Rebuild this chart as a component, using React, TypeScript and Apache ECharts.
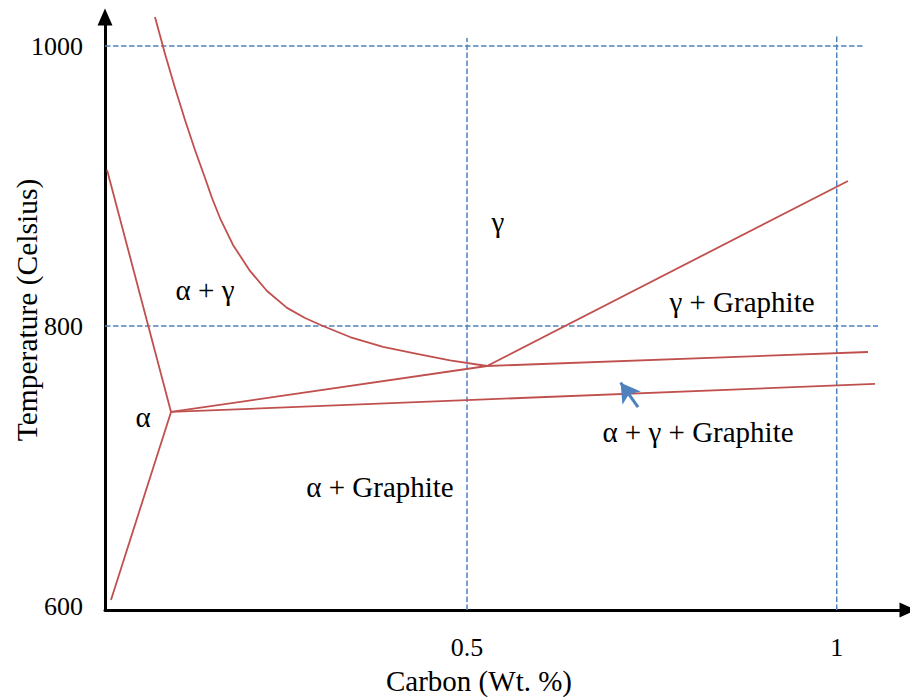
import React, { useEffect, useRef } from "react";
import * as echarts from "echarts";

// Fe–C phase diagram (temperature vs. carbon content)

const FONT = "'Liberation Serif', 'Times New Roman', serif";
const RED = "#C0504D";
const BLUE = "#4F81BD";

// Axis ranges and tick labels
const X_MIN = 0.0104;
const X_MAX = 1.0964;
const T_MIN = 597.1;
const T_MAX = 1020.7;
const T_TICKS = [600, 800, 1000];
const X_TICKS = [0.5, 1];

// Key points
const TRIPLE_POINT: [number, number] = [0.0997, 738.6];
const EUTECTOID: [number, number] = [0.5271, 771.4];

// α / α+γ boundary (upper left line) and α / α+Graphite boundary (lower left line)
const ALPHA_UPPER: [number, number][] = [[0.0132, 911.4], TRIPLE_POINT];
const ALPHA_LOWER: [number, number][] = [TRIPLE_POINT, [0.0185, 604.3]];

// α+γ / γ boundary curve
const GAMMA_CURVE: [number, number][] = [
  [0.078, 1020.7],
  [0.0916, 994.3],
  [0.1051, 970.0],
  [0.1186, 947.1],
  [0.1321, 925.7],
  [0.1457, 905.7],
  [0.1551, 891.4],
  [0.1659, 877.1],
  [0.1835, 857.9],
  [0.2065, 839.3],
  [0.2295, 825.0],
  [0.2566, 812.9],
  [0.2809, 805.7],
  [0.3052, 800.0],
  [0.3418, 792.1],
  [0.3864, 785.0],
  [0.4324, 780.0],
  [0.477, 775.4],
  EUTECTOID,
];

// Lines leaving the triple point / eutectoid point
const TRIPLE_TO_EUTECTOID: [number, number][] = [TRIPLE_POINT, EUTECTOID];
const UPPER_THREE_PHASE: [number, number][] = [EUTECTOID, [1.0423, 781.4]];
const LOWER_THREE_PHASE: [number, number][] = [TRIPLE_POINT, [1.0518, 758.6]];
const GRAPHITE_SOLVUS: [number, number][] = [EUTECTOID, [1.0152, 903.6]];

// Dashed reference lines
const REF_1000: [number, number][] = [[X_MIN, 1000], [1.0351, 1000]];
const REF_800: [number, number][] = [[X_MIN, 800], [1.0558, 800]];
const REF_X05: [number, number][] = [[0.5, T_MIN], [0.5, 1005.7]];
const REF_X1: [number, number][] = [[1, T_MIN], [1, 1007.9]];

// Phase region labels
const REGION_NAMES = ["γ", "α + γ", "γ + Graphite", "α", "α + γ + Graphite", "α + Graphite"];
const REGION_X = [0.5419, 0.1457, 0.8719, 0.0618, 0.8124, 0.3823];
const REGION_T = [874.3, 825.7, 817.1, 735.0, 724.3, 685.0];

// Pointer arrow toward the thin three-phase band
const POINTER: [number, number][] = [[0.7313, 742.1], [0.7077, 759.5]];

export default function App() {
  const ref = useRef<HTMLDivElement>(null);

  useEffect(() => {
    if (!ref.current) return;
    const chart = echarts.init(ref.current, null, { renderer: "svg" });

    const solid = (name: string, data: [number, number][]) => ({
      name,
      type: "line",
      data,
      showSymbol: false,
      symbol: "none",
      silent: true,
      z: 3,
      lineStyle: { color: RED, width: 1.8, join: "round" },
    });

    const dashed = (name: string, data: [number, number][]) => ({
      name,
      type: "line",
      data,
      showSymbol: false,
      symbol: "none",
      silent: true,
      z: 2,
      lineStyle: { color: BLUE, width: 1.5, type: [5.5, 2.5] },
    });

    const axisLine = {
      show: true,
      onZero: false,
      symbol: ["none", "triangle"],
      symbolSize: [15, 17],
      lineStyle: { color: "#000", width: 3 },
    };

    chart.setOption({
      animation: false,
      grid: { left: 105, right: 2, top: 17, bottom: 88, containLabel: false },
      xAxis: {
        type: "value",
        min: X_MIN,
        max: X_MAX,
        axisLine,
        axisTick: { show: false },
        splitLine: { show: false },
        axisLabel: { show: false },
      },
      yAxis: {
        type: "value",
        min: T_MIN,
        max: T_MAX,
        axisLine,
        axisTick: { show: false },
        splitLine: { show: false },
        axisLabel: { show: false },
      },
      series: [
        dashed("ref1000", REF_1000),
        dashed("ref800", REF_800),
        dashed("refX05", REF_X05),
        dashed("refX1", REF_X1),
        solid("alphaUpper", ALPHA_UPPER),
        solid("alphaLower", ALPHA_LOWER),
        solid("gammaCurve", GAMMA_CURVE),
        solid("tripleToEutectoid", TRIPLE_TO_EUTECTOID),
        solid("upperThreePhase", UPPER_THREE_PHASE),
        solid("lowerThreePhase", LOWER_THREE_PHASE),
        solid("graphiteSolvus", GRAPHITE_SOLVUS),
        {
          name: "pointer",
          type: "line",
          data: [],
          markLine: {
            silent: true,
            animation: false,
            symbol: ["none", "arrow"],
            symbolSize: [17, 19],
            label: { show: false },
            lineStyle: { color: BLUE, width: 3, type: "solid" },
            data: [[{ coord: POINTER[0] }, { coord: POINTER[1] }]],
          },
        },
      ],
    });

    // Text is placed with the chart's own coordinate conversion so it follows the axes
    const toPx = (x: number, t: number) =>
      chart.convertToPixel({ gridIndex: 0 }, [x, t]) as number[];
    const text = (
      str: string,
      x: number,
      y: number,
      size: number,
      align: string,
      rotation = 0
    ) => ({
      type: "text",
      x,
      y,
      rotation,
      silent: true,
      z: 10,
      style: {
        text: str,
        fontFamily: FONT,
        fontSize: size,
        fill: "#000",
        align,
        verticalAlign: "middle",
      },
    });

    const origin = toPx(X_MIN, T_MIN);
    const graphics: any[] = [];
    T_TICKS.forEach((t) => {
      const p = toPx(X_MIN, t);
      graphics.push(text(String(t), origin[0] - 22, p[1] + 1, 26, "right"));
    });
    X_TICKS.forEach((x) => {
      const p = toPx(x, T_MIN);
      graphics.push(text(String(x), p[0], origin[1] + 37, 26, "center"));
    });
    REGION_NAMES.forEach((n, i) => {
      const p = toPx(REGION_X[i], REGION_T[i]);
      graphics.push(text(n, p[0], p[1], 29, "center"));
    });
    graphics.push(text("Carbon (Wt. %)", 479, 681, 29, "center"));
    graphics.push(text("Temperature (Celsius)", 27, 310, 29.5, "center", Math.PI / 2));

    chart.setOption({ graphic: graphics });

    return () => chart.dispose();
  }, []);

  return (
    <div
      ref={ref}
      style={{ position: "fixed", left: 0, top: 0, width: 910, height: 698, background: "#fff" }}
    />
  );
}
